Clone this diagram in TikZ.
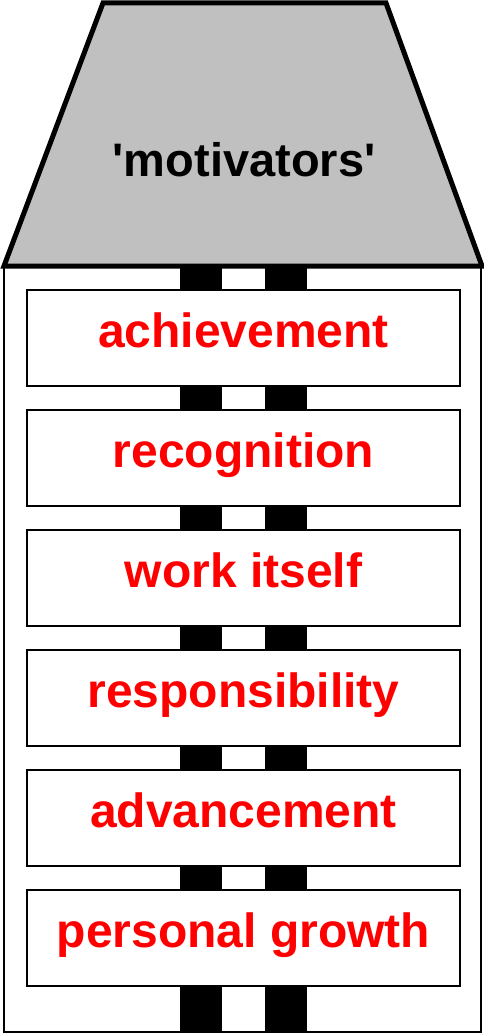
\documentclass[tikz,border=0pt]{standalone}
\usepackage{fontspec}
\setmainfont{Liberation Sans}
\newfontfamily\roofFont{Liberation Sans}
\tikzset{
  factor/.style={draw=black, line width=1.5pt, fill=white, minimum width=433pt,
    minimum height=96pt, inner sep=0pt, text=red, text height=35pt, text depth=17pt,
    font=\fontsize{48}{56}\selectfont\bfseries},
  rail/.style={fill=black},
}
\begin{document}
\begin{tikzpicture}[x=1pt, y=-1pt]
\useasboundingbox (0, 0) rectangle (484, 1035);
\fill[rail] (180, 266) rectangle (222, 1033);
\fill[rail] (265, 266) rectangle (307, 1033);
\draw[line width=2.5pt] (4, 266) rectangle (481, 1032);

%%%%%%%%%%%%%%%%%%%%%%%%%%%%%%%%%%%%%%%%

\draw[line width=5pt, fill={rgb,255:red,192;green,192;blue,192}, line join=miter]
     (103, 3) coordinate (roofL)
  -- (386, 3) coordinate (roofR)
  -- (482, 266)
  -- (4, 266)
  -- cycle;
\node[font=\roofFont\fontsize{47}{56}\selectfont\bfseries] (roof) at (244, 160)
  {'motivators'};

\node[factor] (achieve)  at (243.5, 338) {achievement};
\node[factor] (recog)    at (243.5, 458) {recognition};
\node[factor] (work)     at (243.5, 578) {work itself};
\node[factor] (respons)  at (243.5, 698) {responsibility};
\node[factor] (advance)  at (243.5, 818) {advancement};
\node[factor] (growth)   at (243.5, 938) {personal growth};
\end{tikzpicture}
\end{document}
